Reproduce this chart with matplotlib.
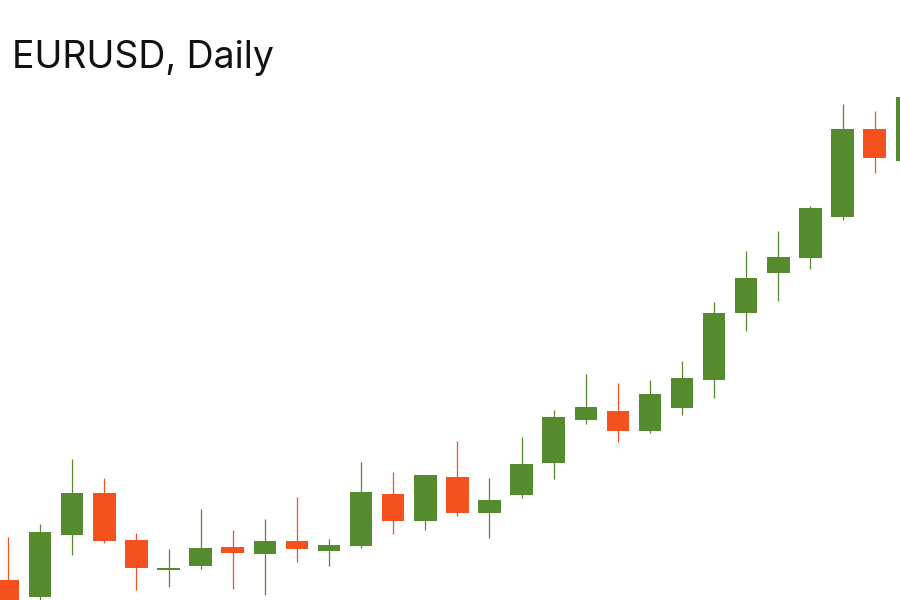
import matplotlib
matplotlib.use('Agg')
import matplotlib.pyplot as plt

# candle values (arbitrary price units)
opens = [20, 3, 65, 107, 60, 30, 34, 53, 46, 59, 49, 54, 106, 79, 123, 87, 105, 137, 180, 189, 169, 192, 220, 287, 327, 342, 383, 471, 439]
closes = [-5, 68, 107, 59, 32, 32, 52, 47, 59, 51, 55, 108, 79, 125, 87, 100, 136, 183, 193, 169, 206, 222, 287, 322, 343, 392, 471, 442, 503]
highs = [63, 76, 141, 122, 67, 51, 91, 70, 81, 103, 61, 138, 128, 125, 159, 122, 163, 190, 226, 217, 220, 239, 298, 349, 369, 394, 496, 489, 510]
lows = [-10, 0, 45, 57, 10, 13, 31, 11, 5, 38, 34, 52, 66, 70, 84, 62, 102, 121, 176, 158, 167, 185, 202, 269, 299, 331, 380, 427, 430]

up_color = '#558b2f'
down_color = '#f4511e'

fig = plt.figure(figsize=(9, 6), dpi=100)
ax = fig.add_axes([0, 0, 1, 1])

for i in range(len(opens)):
    o, c = opens[i], closes[i]
    col = up_color if c >= o else down_color
    ax.vlines(i, lows[i], highs[i], color=col, linewidth=0.9, zorder=1)
    h = abs(c - o)
    if h < 1.5:
        ax.hlines((o + c) / 2, i - 0.35, i + 0.35, color=col, linewidth=1.5, zorder=2)
    else:
        ax.bar(i, h, bottom=min(o, c), width=0.7, color=col, zorder=2)

ax.set_xlim(-0.25, 27.79)
ax.set_ylim(0, 600)
ax.axis('off')

fig.text(12 / 900, 1 - 68 / 600, 'EURUSD, Daily', fontsize=27, family=['Inter', 'DejaVu Sans'],
         ha='left', va='baseline', color='#111111')

fig.savefig('out.png', dpi=100)
